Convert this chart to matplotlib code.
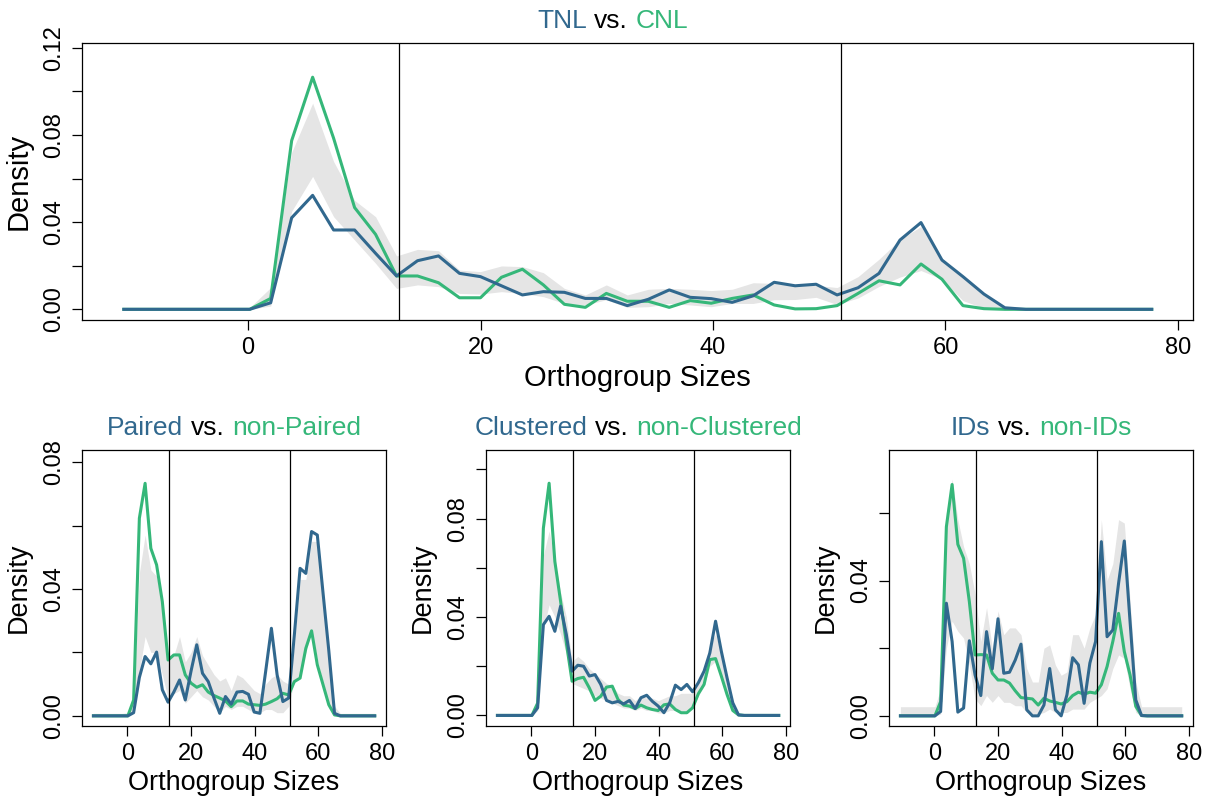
import numpy as np
import matplotlib
matplotlib.use("Agg")
import matplotlib.pyplot as plt
from matplotlib.offsetbox import TextArea, HPacker, AnnotationBbox

plt.rcParams['font.family'] = ['Liberation Sans', 'DejaVu Sans']

BLUE = '#31688E'
GREEN = '#35B779'
BAND = '#E5E5E5'

# orthogroup size grid shared by all four density curves
sizes = np.linspace(-10.7, 77.75, 50)
cutoffs = [13, 51]

# --- TNL vs. CNL ---
tnl = [0, 0, 0, 0, 0, 0, 0, 0.003, 0.042, 0.0523, 0.0364, 0.0364, 0.0257, 0.0153,
       0.0223, 0.0245, 0.0165, 0.0150, 0.0108, 0.0066, 0.0081, 0.0078, 0.0050, 0.0050,
       0.0017, 0.0046, 0.0089, 0.0055, 0.0049, 0.0032, 0.0062, 0.0124, 0.0108, 0.0115,
       0.0066, 0.0099, 0.0165, 0.0318, 0.0398, 0.0226, 0.0150, 0.0070, 0.0007,
       0, 0, 0, 0, 0, 0, 0]
cnl = [0, 0, 0, 0, 0, 0, 0, 0.005, 0.0774, 0.1065, 0.0785, 0.0467, 0.0344, 0.0153,
       0.0153, 0.0122, 0.0053, 0.0053, 0.0147, 0.0184, 0.0112, 0.0023, 0.0009, 0.0073,
       0.0037, 0.0037, 0.0009, 0.0040, 0.0028, 0.0050, 0.0066, 0.0020, 0.0002, 0.0003,
       0.0017, 0.0073, 0.0131, 0.0112, 0.0208, 0.0138, 0.0017, 0.0003, 0,
       0, 0, 0, 0, 0, 0, 0]
tnl_lo = [0, 0, 0, 0, 0, 0, 0, 0.0015, 0.045, 0.061, 0.0425, 0.0318, 0.0211, 0.0096,
          0.0112, 0.0104, 0.0073, 0.0070, 0.0081, 0.0073, 0.0058, 0.0027, 0.0020, 0.0044,
          0.0009, 0.0012, 0.0027, 0.0020, 0.0012, 0.0027, 0.0027, 0.0044, 0.0045, 0.0055,
          0.0022, 0.0052, 0.0105, 0.0148, 0.0178, 0.0138, 0.0040, 0.0005, 0,
          0, 0, 0, 0, 0, 0, 0]
tnl_hi = [0.0004, 0.0004, 0.0004, 0.0004, 0.0004, 0.0004, 0.0008, 0.0100, 0.072, 0.0946,
          0.0678, 0.050, 0.0425, 0.0245, 0.0275, 0.0269, 0.018, 0.0173, 0.0199, 0.0196,
          0.0168, 0.0096, 0.0066, 0.0112, 0.0066, 0.0092, 0.0096, 0.0092, 0.0086, 0.0092,
          0.0122, 0.0119, 0.0110, 0.0110, 0.0100, 0.0150, 0.0230, 0.0320, 0.0380, 0.0235,
          0.0150, 0.0073, 0.0013, 0.0004, 0.0004, 0.0004, 0.0004, 0.0004, 0.0004, 0.0004]

# --- Paired vs. non-Paired ---
paired = [0, 0, 0, 0, 0, 0, 0, 0.001, 0.0121, 0.0187, 0.0164, 0.0201, 0.0082, 0.0043,
          0.0075, 0.0113, 0.0050, 0.0141, 0.0224, 0.0134, 0.0108, 0.0056, 0.0008, 0.0061,
          0.0037, 0.0075, 0.0077, 0.0068, 0.0012, 0.0008, 0.0140, 0.0276, 0.0129, 0.0045,
          0.0056, 0.0255, 0.0465, 0.0449, 0.0581, 0.0570, 0.0387, 0.0206, 0.0008,
          0, 0, 0, 0, 0, 0, 0]
nonpaired = [0, 0, 0, 0, 0, 0, 0, 0.005, 0.0623, 0.0733, 0.0528, 0.0476, 0.0360, 0.0176,
             0.0192, 0.0192, 0.0129, 0.0103, 0.0090, 0.0098, 0.0075, 0.0064, 0.0056, 0.0047,
             0.0029, 0.0047, 0.0047, 0.0037, 0.0035, 0.0033, 0.0037, 0.0045, 0.0054, 0.0071,
             0.0066, 0.0108, 0.0119, 0.0213, 0.0268, 0.0161, 0.0098, 0.0035, 0.0003,
             0, 0, 0, 0, 0, 0, 0]
paired_lo = [0, 0, 0, 0, 0, 0, 0, 0.001, 0.014, 0.025, 0.020, 0.020, 0.013, 0.0055,
             0.007, 0.008, 0.004, 0.006, 0.008, 0.006, 0.005, 0.003, 0.001, 0.003,
             0.002, 0.003, 0.003, 0.002, 0.001, 0.001, 0.002, 0.002, 0.001, 0.001,
             0.003, 0.011, 0.013, 0.020, 0.027, 0.018, 0.010, 0.003, 0.0002,
             0, 0, 0, 0, 0, 0, 0]
paired_hi = [0.0008, 0.0008, 0.0008, 0.0008, 0.0008, 0.0008, 0.001, 0.006, 0.045, 0.057,
             0.046, 0.044, 0.035, 0.019, 0.019, 0.025, 0.017, 0.020, 0.025, 0.019,
             0.016, 0.013, 0.011, 0.012, 0.008, 0.013, 0.012, 0.010, 0.008, 0.007,
             0.010, 0.012, 0.013, 0.011, 0.010, 0.022, 0.043, 0.043, 0.055, 0.055,
             0.036, 0.020, 0.003, 0.0008, 0.0008, 0.0008, 0.0008, 0.0008, 0.0008, 0.0008]

# --- Clustered vs. non-Clustered ---
clustered = [0, 0, 0, 0, 0, 0, 0, 0.0031, 0.0369, 0.0403, 0.0342, 0.0444, 0.0329, 0.0180,
             0.0204, 0.0200, 0.0160, 0.0166, 0.0126, 0.0061, 0.0051, 0.0057, 0.0047, 0.0061,
             0.0028, 0.0072, 0.0082, 0.0057, 0.0038, 0.0011, 0.0051, 0.0123, 0.0105, 0.0126,
             0.0096, 0.0133, 0.0180, 0.0254, 0.0383, 0.0261, 0.0153, 0.0051, 0.0002,
             0, 0, 0, 0, 0, 0, 0]
nonclustered = [0, 0, 0, 0, 0, 0, 0, 0.005, 0.0761, 0.0944, 0.0626, 0.0464, 0.0295, 0.0139,
                0.0150, 0.0155, 0.0112, 0.0061, 0.0078, 0.0115, 0.0119, 0.0065, 0.0042, 0.0038,
                0.0028, 0.0042, 0.0031, 0.0024, 0.0020, 0.0043, 0.0047, 0.0024, 0.0011, 0.0011,
                0.0031, 0.0088, 0.0126, 0.0227, 0.0231, 0.0160, 0.0085, 0.0020, 0.0002,
                0, 0, 0, 0, 0, 0, 0]
clustered_lo = [0, 0, 0, 0, 0, 0, 0, 0.002, 0.035, 0.045, 0.040, 0.033, 0.025, 0.013,
                0.012, 0.011, 0.010, 0.008, 0.007, 0.006, 0.005, 0.004, 0.003, 0.003,
                0.002, 0.003, 0.002, 0.002, 0.001, 0.001, 0.002, 0.002, 0.002, 0.002,
                0.003, 0.008, 0.012, 0.020, 0.022, 0.016, 0.008, 0.002, 0,
                0, 0, 0, 0, 0, 0, 0]
clustered_hi = [0.0005, 0.0005, 0.0005, 0.0005, 0.0005, 0.0005, 0.0008, 0.006, 0.065, 0.075,
                0.063, 0.050, 0.040, 0.022, 0.024, 0.022, 0.019, 0.017, 0.015, 0.013,
                0.012, 0.009, 0.008, 0.008, 0.006, 0.008, 0.007, 0.007, 0.006, 0.007,
                0.008, 0.008, 0.009, 0.009, 0.009, 0.013, 0.019, 0.029, 0.033, 0.025,
                0.015, 0.005, 0.001, 0.0005, 0.0005, 0.0005, 0.0005, 0.0005, 0.0005, 0.0005]

# --- IDs vs. non-IDs ---
ids = [0, 0, 0, 0, 0, 0, 0, 0.0013, 0.0333, 0.0220, 0.0011, 0.0023, 0.0222, 0.0121,
       0.0060, 0.0249, 0.0139, 0.0287, 0.0126, 0.0129, 0.0165, 0.0212, 0.0018, 0,
       0, 0.0032, 0.0140, 0.0018, 0, 0.0062, 0.0172, 0.0151, 0.0037, 0.0156,
       0.0220, 0.0515, 0.0234, 0.0254, 0.0392, 0.0517, 0.0279, 0.0047, 0.0001,
       0, 0, 0, 0, 0, 0, 0]
nonids = [0, 0, 0, 0, 0, 0, 0, 0.0042, 0.0559, 0.0684, 0.0507, 0.0466, 0.0338, 0.0180,
          0.0181, 0.0180, 0.0126, 0.0106, 0.0106, 0.0097, 0.0074, 0.0054, 0.0052, 0.0050,
          0.0032, 0.0052, 0.0044, 0.0040, 0.0035, 0.0042, 0.0060, 0.0070, 0.0064, 0.0070,
          0.0067, 0.0092, 0.0146, 0.0220, 0.0303, 0.0190, 0.0121, 0.0028, 0.0001,
          0, 0, 0, 0, 0, 0, 0]
ids_lo = [0, 0, 0, 0, 0, 0, 0, 0.0005, 0.020, 0.028, 0.025, 0.023, 0.015, 0.005,
          0.003, 0.006, 0.004, 0.006, 0.004, 0.004, 0.003, 0.003, 0.001, 0.0005,
          0.0005, 0.001, 0.002, 0.001, 0.001, 0.001, 0.002, 0.002, 0.002, 0.004,
          0.005, 0.006, 0.008, 0.014, 0.018, 0.017, 0.008, 0.001, 0,
          0, 0, 0, 0, 0, 0, 0]
ids_hi = [0.0027, 0.0027, 0.0027, 0.0027, 0.0027, 0.0027, 0.0027, 0.008, 0.060, 0.070,
          0.058, 0.050, 0.045, 0.036, 0.022, 0.032, 0.020, 0.031, 0.024, 0.026,
          0.026, 0.024, 0.014, 0.010, 0.010, 0.020, 0.021, 0.015, 0.012, 0.013,
          0.024, 0.024, 0.020, 0.026, 0.030, 0.058, 0.040, 0.045, 0.058, 0.057,
          0.034, 0.010, 0.0027, 0.0027, 0.0027, 0.0027, 0.0027, 0.0027, 0.0027, 0.0027]

TICK_FS = 17
TITLE_FS = 19


def density_panel(ax, a, b, lo, hi, names, ylim, yticks, ylabels,
                  lab_fs=19.5, title_dx=0):
    ax.fill_between(sizes, lo, hi, color=BAND, linewidth=0, zorder=1)
    ax.plot(sizes, b, color=GREEN, lw=2.2, zorder=3)
    ax.plot(sizes, a, color=BLUE, lw=2.2, zorder=4)
    for c in cutoffs:
        ax.axvline(c, color='black', lw=0.9, zorder=5)
    ax.set_xlim(-14.3, 81.3)
    ax.set_ylim(*ylim)
    ax.set_xticks([0, 20, 40, 60, 80])
    ax.set_yticks(yticks)
    ax.set_yticklabels(ylabels, rotation=90, va='center')
    ax.tick_params(direction='out', length=7, width=0.9, labelsize=TICK_FS)
    ax.tick_params(axis='x', pad=5)
    ax.tick_params(axis='y', pad=5)
    for s in ax.spines.values():
        s.set_linewidth(0.9)
    ax.set_xlabel('Orthogroup Sizes', fontsize=lab_fs, labelpad=4)
    ax.set_ylabel('Density', fontsize=lab_fs, labelpad=8)

    # two-colour title: "<a> vs. <b>"
    gap = 0.278 * TITLE_FS
    parts = [TextArea(names[0], textprops=dict(color=BLUE, fontsize=TITLE_FS)),
             TextArea('vs.', textprops=dict(color='black', fontsize=TITLE_FS)),
             TextArea(names[1], textprops=dict(color=GREEN, fontsize=TITLE_FS))]
    box = HPacker(children=parts, sep=gap, pad=0, align='baseline')
    ab = AnnotationBbox(box, (0.5, 1.0), xycoords='axes fraction',
                        xybox=(title_dx, 16), boxcoords='offset points',
                        box_alignment=(0.5, 0.5), frameon=False, pad=0)
    ax.add_artist(ab)


fig = plt.figure(figsize=(12.19, 8.0), dpi=100)
W, H = 1219.0, 800.0


def place(left, top, right, bottom):
    return fig.add_axes([left / W, 1 - bottom / H, (right - left) / W, (bottom - top) / H])


ax_top = place(82, 43, 1193, 320)
ax_p = place(82, 450, 386, 726)
ax_c = place(486, 450, 790, 726)
ax_i = place(889, 450, 1193, 726)

# the top title sits over the middle of the page rather than the panel
density_panel(ax_top, tnl, cnl, tnl_lo, tnl_hi, ('TNL', 'CNL'),
              (-0.0049, 0.1222), [0, 0.02, 0.04, 0.06, 0.08, 0.10, 0.12],
              ['0.00', '', '0.04', '', '0.08', '', '0.12'],
              lab_fs=21, title_dx=-18)
density_panel(ax_p, paired, nonpaired, paired_lo, paired_hi, ('Paired', 'non-Paired'),
              (-0.0032, 0.0838), [0, 0.02, 0.04, 0.06, 0.08],
              ['0.00', '', '0.04', '', '0.08'])
density_panel(ax_c, clustered, nonclustered, clustered_lo, clustered_hi,
              ('Clustered', 'non-Clustered'),
              (-0.0043, 0.1079), [0, 0.02, 0.04, 0.06, 0.08, 0.10],
              ['0.00', '', '0.04', '', '0.08', ''])
density_panel(ax_i, ids, nonids, ids_lo, ids_hi, ('IDs', 'non-IDs'),
              (-0.0030, 0.0786), [0, 0.02, 0.04, 0.06],
              ['0.00', '', '0.04', ''])

fig.savefig('out.png', dpi=100)
